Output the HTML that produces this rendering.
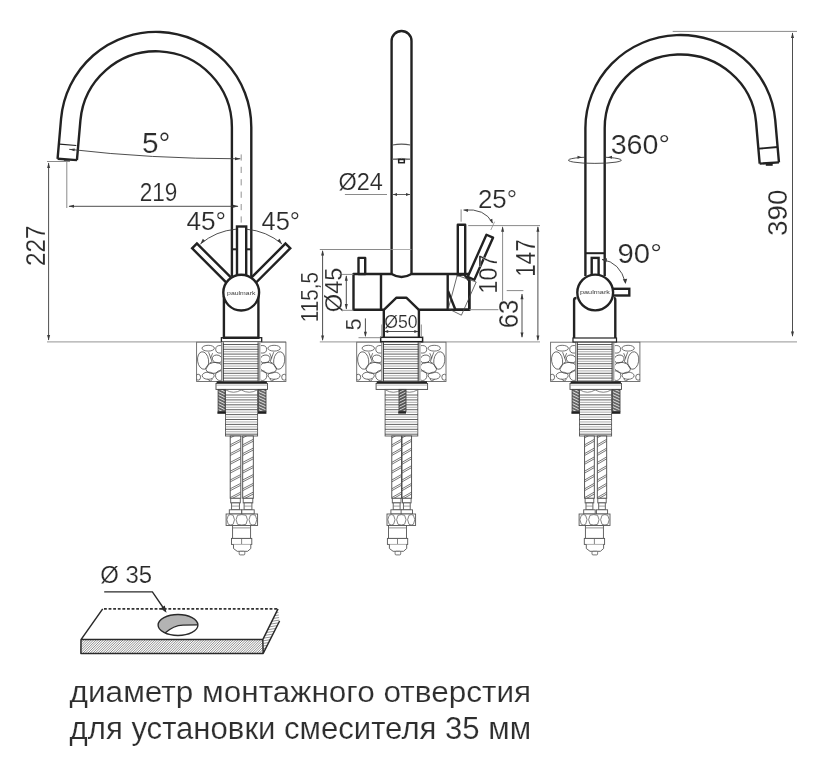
<!DOCTYPE html>
<html><head><meta charset="utf-8"><style>
html,body{margin:0;padding:0;background:#fff;}
body{width:822px;height:758px;overflow:hidden;font-family:"Liberation Sans",sans-serif;}
svg{display:block;will-change:transform;}
</style></head><body>
<svg width="822" height="758" viewBox="0 0 822 758" font-family="Liberation Sans, sans-serif">
<rect width="822" height="758" fill="#fff"/>
<line x1="47" y1="341.9" x2="286" y2="341.9" stroke="#aaa" stroke-width="1.3"/>
<line x1="319.8" y1="341.9" x2="540" y2="341.9" stroke="#aaa" stroke-width="1.3"/>
<line x1="617" y1="341.9" x2="797" y2="341.9" stroke="#aaa" stroke-width="1.3"/>
<rect x="221.39999999999998" y="337.7" width="40.3" height="4.3" fill="#fff" stroke="#222" stroke-width="1.3"/>
<rect x="196.6" y="342.2" width="89.3" height="39.3" fill="#fff" stroke="#666" stroke-width="0.9"/>
<clipPath id="pc1"><rect x="196.6" y="342.2" width="25" height="39.3"/></clipPath>
<g fill="none" stroke="#444" stroke-width="0.75" clip-path="url(#pc1)">
<ellipse cx="208.2" cy="348.2" rx="6.2" ry="2.9" transform="rotate(0 208.2 348.2)"/>
<ellipse cx="220.1" cy="349.3" rx="4.4" ry="3.8" transform="rotate(0 220.1 349.3)"/>
<ellipse cx="203.1" cy="360.5" rx="5.5" ry="8.8" transform="rotate(-8 203.1 360.5)"/>
<ellipse cx="217.2" cy="359.0" rx="5" ry="3.9" transform="rotate(15 217.2 359.0)"/>
<ellipse cx="214.0" cy="367.9" rx="8.2" ry="5.4" transform="rotate(-12 214.0 367.9)"/>
<ellipse cx="208.2" cy="375.7" rx="6" ry="3.6" transform="rotate(0 208.2 375.7)"/>
<ellipse cx="219.8" cy="375.6" rx="4.3" ry="4.9" transform="rotate(0 219.8 375.6)"/>
<ellipse cx="198.1" cy="377.2" rx="2.5" ry="3" transform="rotate(0 198.1 377.2)"/>
<line x1="208.6" y1="352.2" x2="212.1" y2="361.7"/>
<line x1="212.1" y1="361.7" x2="209.6" y2="363.2"/>
<line x1="212.6" y1="353.2" x2="210.6" y2="358.2"/>
<line x1="207.6" y1="379.2" x2="210.6" y2="381.2"/>
<line x1="212.6" y1="378.7" x2="210.6" y2="381.2"/>
</g>
<clipPath id="pc2"><rect x="260.7" y="342.2" width="25" height="39.3"/></clipPath>
<g fill="none" stroke="#444" stroke-width="0.75" clip-path="url(#pc2)">
<ellipse cx="274.1" cy="348.2" rx="6.2" ry="2.9" transform="rotate(0 274.1 348.2)"/>
<ellipse cx="262.2" cy="349.3" rx="4.4" ry="3.8" transform="rotate(0 262.2 349.3)"/>
<ellipse cx="279.2" cy="360.5" rx="5.5" ry="8.8" transform="rotate(8 279.2 360.5)"/>
<ellipse cx="265.1" cy="359.0" rx="5" ry="3.9" transform="rotate(-15 265.1 359.0)"/>
<ellipse cx="268.3" cy="367.9" rx="8.2" ry="5.4" transform="rotate(12 268.3 367.9)"/>
<ellipse cx="274.1" cy="375.7" rx="6" ry="3.6" transform="rotate(0 274.1 375.7)"/>
<ellipse cx="262.5" cy="375.6" rx="4.3" ry="4.9" transform="rotate(0 262.5 375.6)"/>
<ellipse cx="284.2" cy="377.2" rx="2.5" ry="3" transform="rotate(0 284.2 377.2)"/>
<line x1="273.7" y1="352.2" x2="270.2" y2="361.7"/>
<line x1="270.2" y1="361.7" x2="272.7" y2="363.2"/>
<line x1="269.7" y1="353.2" x2="271.7" y2="358.2"/>
<line x1="274.7" y1="379.2" x2="271.7" y2="381.2"/>
<line x1="269.7" y1="378.7" x2="271.7" y2="381.2"/>
</g>
<rect x="221.7" y="342.2" width="38.8" height="39.3" fill="#fff" stroke="none"/>
<line x1="223.1" y1="344.5" x2="258.3" y2="344.5" stroke="#3a3a3a" stroke-width="0.8"/>
<line x1="223.1" y1="346.9" x2="258.3" y2="346.9" stroke="#999" stroke-width="0.8"/>
<line x1="223.1" y1="349.3" x2="258.3" y2="349.3" stroke="#3a3a3a" stroke-width="0.8"/>
<line x1="223.1" y1="351.7" x2="258.3" y2="351.7" stroke="#999" stroke-width="0.8"/>
<line x1="223.1" y1="354.1" x2="258.3" y2="354.1" stroke="#3a3a3a" stroke-width="0.8"/>
<line x1="223.1" y1="356.5" x2="258.3" y2="356.5" stroke="#999" stroke-width="0.8"/>
<line x1="223.1" y1="358.9" x2="258.3" y2="358.9" stroke="#3a3a3a" stroke-width="0.8"/>
<line x1="223.1" y1="361.3" x2="258.3" y2="361.3" stroke="#999" stroke-width="0.8"/>
<line x1="223.1" y1="363.7" x2="258.3" y2="363.7" stroke="#3a3a3a" stroke-width="0.8"/>
<line x1="223.1" y1="366.1" x2="258.3" y2="366.1" stroke="#999" stroke-width="0.8"/>
<line x1="223.1" y1="368.5" x2="258.3" y2="368.5" stroke="#3a3a3a" stroke-width="0.8"/>
<line x1="223.1" y1="370.9" x2="258.3" y2="370.9" stroke="#999" stroke-width="0.8"/>
<line x1="223.1" y1="373.3" x2="258.3" y2="373.3" stroke="#3a3a3a" stroke-width="0.8"/>
<line x1="223.1" y1="375.7" x2="258.3" y2="375.7" stroke="#999" stroke-width="0.8"/>
<line x1="223.1" y1="378.1" x2="258.3" y2="378.1" stroke="#3a3a3a" stroke-width="0.8"/>
<line x1="223.1" y1="380.5" x2="258.3" y2="380.5" stroke="#999" stroke-width="0.8"/>
<line x1="221.7" y1="342.2" x2="221.7" y2="381.5" stroke="#777" stroke-width="1.0"/>
<line x1="223.29999999999998" y1="342.2" x2="223.29999999999998" y2="381.5" stroke="#333" stroke-width="1.0"/>
<line x1="258.09999999999997" y1="342.2" x2="258.09999999999997" y2="381.5" stroke="#333" stroke-width="1.0"/>
<line x1="259.8" y1="342.2" x2="259.8" y2="381.5" stroke="#777" stroke-width="1.0"/>
<rect x="216.6" y="381.3" width="50.3" height="2.4" fill="#222"/>
<rect x="216.0" y="383.5" width="51.5" height="5.9" fill="#fff" stroke="#444" stroke-width="0.9"/>
<line x1="216.0" y1="385.1" x2="267.5" y2="385.1" stroke="#999" stroke-width="0.7"/>
<rect x="225.5" y="389.4" width="32.099999999999966" height="46.6" fill="#fff" stroke="#555" stroke-width="0.9"/>
<path d="M226.0,390 Q233.35,394.5 241.2,390 Q249.39999999999998,394.5 257.09999999999997,390" fill="none" stroke="#666" stroke-width="0.8"/>
<line x1="225.5" y1="395" x2="257.59999999999997" y2="395" stroke="#3a3a3a" stroke-width="0.8"/>
<line x1="225.5" y1="397.45" x2="257.59999999999997" y2="397.45" stroke="#999" stroke-width="0.8"/>
<line x1="225.5" y1="399.9" x2="257.59999999999997" y2="399.9" stroke="#3a3a3a" stroke-width="0.8"/>
<line x1="225.5" y1="402.35" x2="257.59999999999997" y2="402.35" stroke="#999" stroke-width="0.8"/>
<line x1="225.5" y1="404.8" x2="257.59999999999997" y2="404.8" stroke="#3a3a3a" stroke-width="0.8"/>
<line x1="225.5" y1="407.25" x2="257.59999999999997" y2="407.25" stroke="#999" stroke-width="0.8"/>
<line x1="225.5" y1="409.7" x2="257.59999999999997" y2="409.7" stroke="#3a3a3a" stroke-width="0.8"/>
<line x1="225.5" y1="412.15" x2="257.59999999999997" y2="412.15" stroke="#999" stroke-width="0.8"/>
<line x1="225.5" y1="414.6" x2="257.59999999999997" y2="414.6" stroke="#3a3a3a" stroke-width="0.8"/>
<line x1="225.5" y1="417.05" x2="257.59999999999997" y2="417.05" stroke="#999" stroke-width="0.8"/>
<line x1="225.5" y1="419.5" x2="257.59999999999997" y2="419.5" stroke="#3a3a3a" stroke-width="0.8"/>
<line x1="225.5" y1="421.95" x2="257.59999999999997" y2="421.95" stroke="#999" stroke-width="0.8"/>
<line x1="225.5" y1="424.4" x2="257.59999999999997" y2="424.4" stroke="#3a3a3a" stroke-width="0.8"/>
<line x1="225.5" y1="426.85" x2="257.59999999999997" y2="426.85" stroke="#999" stroke-width="0.8"/>
<line x1="225.5" y1="429.3" x2="257.59999999999997" y2="429.3" stroke="#3a3a3a" stroke-width="0.8"/>
<line x1="225.5" y1="431.75" x2="257.59999999999997" y2="431.75" stroke="#999" stroke-width="0.8"/>
<line x1="225.5" y1="434.2" x2="257.59999999999997" y2="434.2" stroke="#3a3a3a" stroke-width="0.8"/>
<clipPath id="hc3"><rect x="218.1" y="389.4" width="7.0" height="22.2"/></clipPath>
<rect x="218.1" y="389.4" width="7.0" height="22.2" fill="#666"/>
<g clip-path="url(#hc3)" stroke="#fff" stroke-width="0.8">
<line x1="218.1" y1="379.40" x2="225.1" y2="382.90"/>
<line x1="218.1" y1="382.40" x2="225.1" y2="385.90"/>
<line x1="218.1" y1="385.40" x2="225.1" y2="388.90"/>
<line x1="218.1" y1="388.40" x2="225.1" y2="391.90"/>
<line x1="218.1" y1="391.40" x2="225.1" y2="394.90"/>
<line x1="218.1" y1="394.40" x2="225.1" y2="397.90"/>
<line x1="218.1" y1="397.40" x2="225.1" y2="400.90"/>
<line x1="218.1" y1="400.40" x2="225.1" y2="403.90"/>
<line x1="218.1" y1="403.40" x2="225.1" y2="406.90"/>
<line x1="218.1" y1="406.40" x2="225.1" y2="409.90"/>
<line x1="218.1" y1="409.40" x2="225.1" y2="412.90"/>
<line x1="218.1" y1="412.40" x2="225.1" y2="415.90"/>
</g>
<rect x="218.1" y="389.4" width="7.0" height="22.2" fill="none" stroke="#444" stroke-width="0.9"/>
<clipPath id="hc4"><rect x="258.4" y="389.4" width="7.6" height="22.2"/></clipPath>
<rect x="258.4" y="389.4" width="7.6" height="22.2" fill="#666"/>
<g clip-path="url(#hc4)" stroke="#fff" stroke-width="0.8">
<line x1="258.4" y1="379.40" x2="266.0" y2="382.90"/>
<line x1="258.4" y1="382.40" x2="266.0" y2="385.90"/>
<line x1="258.4" y1="385.40" x2="266.0" y2="388.90"/>
<line x1="258.4" y1="388.40" x2="266.0" y2="391.90"/>
<line x1="258.4" y1="391.40" x2="266.0" y2="394.90"/>
<line x1="258.4" y1="394.40" x2="266.0" y2="397.90"/>
<line x1="258.4" y1="397.40" x2="266.0" y2="400.90"/>
<line x1="258.4" y1="400.40" x2="266.0" y2="403.90"/>
<line x1="258.4" y1="403.40" x2="266.0" y2="406.90"/>
<line x1="258.4" y1="406.40" x2="266.0" y2="409.90"/>
<line x1="258.4" y1="409.40" x2="266.0" y2="412.90"/>
<line x1="258.4" y1="412.40" x2="266.0" y2="415.90"/>
</g>
<rect x="258.4" y="389.4" width="7.6" height="22.2" fill="none" stroke="#444" stroke-width="0.9"/>
<rect x="217.39999999999998" y="411.6" width="8.4" height="2.2" fill="#222"/>
<rect x="258.0" y="411.6" width="8.4" height="2.2" fill="#222"/>
<clipPath id="hc5"><rect x="230.2" y="436" width="10.599999999999994" height="62.3"/></clipPath>
<rect x="230.2" y="436" width="10.599999999999994" height="62.3" fill="#fff"/>
<g clip-path="url(#hc5)" stroke="#555" stroke-width="0.8">
<line x1="230.2" y1="427.20" x2="240.79999999999998" y2="421.70"/>
<line x1="230.2" y1="429.10" x2="240.79999999999998" y2="423.60"/>
<line x1="230.2" y1="436.00" x2="240.79999999999998" y2="430.50"/>
<line x1="230.2" y1="437.90" x2="240.79999999999998" y2="432.40"/>
<line x1="230.2" y1="444.80" x2="240.79999999999998" y2="439.30"/>
<line x1="230.2" y1="446.70" x2="240.79999999999998" y2="441.20"/>
<line x1="230.2" y1="453.60" x2="240.79999999999998" y2="448.10"/>
<line x1="230.2" y1="455.50" x2="240.79999999999998" y2="450.00"/>
<line x1="230.2" y1="462.40" x2="240.79999999999998" y2="456.90"/>
<line x1="230.2" y1="464.30" x2="240.79999999999998" y2="458.80"/>
<line x1="230.2" y1="471.20" x2="240.79999999999998" y2="465.70"/>
<line x1="230.2" y1="473.10" x2="240.79999999999998" y2="467.60"/>
<line x1="230.2" y1="480.00" x2="240.79999999999998" y2="474.50"/>
<line x1="230.2" y1="481.90" x2="240.79999999999998" y2="476.40"/>
<line x1="230.2" y1="488.80" x2="240.79999999999998" y2="483.30"/>
<line x1="230.2" y1="490.70" x2="240.79999999999998" y2="485.20"/>
<line x1="230.2" y1="497.60" x2="240.79999999999998" y2="492.10"/>
<line x1="230.2" y1="499.50" x2="240.79999999999998" y2="494.00"/>
<line x1="230.2" y1="506.40" x2="240.79999999999998" y2="500.90"/>
<line x1="230.2" y1="508.30" x2="240.79999999999998" y2="502.80"/>
<line x1="230.2" y1="515.20" x2="240.79999999999998" y2="509.70"/>
<line x1="230.2" y1="517.10" x2="240.79999999999998" y2="511.60"/>
</g>
<rect x="230.2" y="436" width="10.599999999999994" height="62.3" fill="none" stroke="#444" stroke-width="0.9"/>
<rect x="230.7" y="498.3" width="9.6" height="4.6" fill="#fff" stroke="#555" stroke-width="0.9"/>
<rect x="231.6" y="502.9" width="7.8" height="6.9" fill="#fff" stroke="#555" stroke-width="0.9"/>
<line x1="231.6" y1="506.1" x2="239.4" y2="506.1" stroke="#777" stroke-width="0.7"/>
<rect x="229.3" y="509.8" width="12.4" height="4.2" fill="#fff" stroke="#555" stroke-width="0.9"/>
<clipPath id="hc6"><rect x="242.7" y="436" width="10.599999999999994" height="62.3"/></clipPath>
<rect x="242.7" y="436" width="10.599999999999994" height="62.3" fill="#fff"/>
<g clip-path="url(#hc6)" stroke="#555" stroke-width="0.8">
<line x1="242.7" y1="427.20" x2="253.29999999999998" y2="421.70"/>
<line x1="242.7" y1="429.10" x2="253.29999999999998" y2="423.60"/>
<line x1="242.7" y1="436.00" x2="253.29999999999998" y2="430.50"/>
<line x1="242.7" y1="437.90" x2="253.29999999999998" y2="432.40"/>
<line x1="242.7" y1="444.80" x2="253.29999999999998" y2="439.30"/>
<line x1="242.7" y1="446.70" x2="253.29999999999998" y2="441.20"/>
<line x1="242.7" y1="453.60" x2="253.29999999999998" y2="448.10"/>
<line x1="242.7" y1="455.50" x2="253.29999999999998" y2="450.00"/>
<line x1="242.7" y1="462.40" x2="253.29999999999998" y2="456.90"/>
<line x1="242.7" y1="464.30" x2="253.29999999999998" y2="458.80"/>
<line x1="242.7" y1="471.20" x2="253.29999999999998" y2="465.70"/>
<line x1="242.7" y1="473.10" x2="253.29999999999998" y2="467.60"/>
<line x1="242.7" y1="480.00" x2="253.29999999999998" y2="474.50"/>
<line x1="242.7" y1="481.90" x2="253.29999999999998" y2="476.40"/>
<line x1="242.7" y1="488.80" x2="253.29999999999998" y2="483.30"/>
<line x1="242.7" y1="490.70" x2="253.29999999999998" y2="485.20"/>
<line x1="242.7" y1="497.60" x2="253.29999999999998" y2="492.10"/>
<line x1="242.7" y1="499.50" x2="253.29999999999998" y2="494.00"/>
<line x1="242.7" y1="506.40" x2="253.29999999999998" y2="500.90"/>
<line x1="242.7" y1="508.30" x2="253.29999999999998" y2="502.80"/>
<line x1="242.7" y1="515.20" x2="253.29999999999998" y2="509.70"/>
<line x1="242.7" y1="517.10" x2="253.29999999999998" y2="511.60"/>
</g>
<rect x="242.7" y="436" width="10.599999999999994" height="62.3" fill="none" stroke="#444" stroke-width="0.9"/>
<rect x="243.2" y="498.3" width="9.6" height="4.6" fill="#fff" stroke="#555" stroke-width="0.9"/>
<rect x="244.1" y="502.9" width="7.8" height="6.9" fill="#fff" stroke="#555" stroke-width="0.9"/>
<line x1="244.1" y1="506.1" x2="251.9" y2="506.1" stroke="#777" stroke-width="0.7"/>
<rect x="241.8" y="509.8" width="12.4" height="4.2" fill="#fff" stroke="#555" stroke-width="0.9"/>
<rect x="226.1" y="514" width="31.5" height="11.5" fill="#fff" stroke="#555" stroke-width="0.9"/>
<path d="M226.9,519.7 L228.3,515.3 L230.7,514.6 L233.1,515.3 L234.5,519.7 L233.1,524.3 L230.7,525 L228.3,524.3 Z" fill="none" stroke="#666" stroke-width="0.8" stroke-linejoin="round"/>
<path d="M236.1,519.7 L237.5,515.3 L241.8,514.6 L246.0,515.3 L247.4,519.7 L246.0,524.3 L241.8,525 L237.5,524.3 Z" fill="none" stroke="#666" stroke-width="0.8" stroke-linejoin="round"/>
<path d="M249.0,519.7 L250.4,515.3 L252.9,514.6 L255.4,515.3 L256.8,519.7 L255.4,524.3 L252.9,525 L250.4,524.3 Z" fill="none" stroke="#666" stroke-width="0.8" stroke-linejoin="round"/>
<rect x="232.6" y="525.5" width="18" height="12.9" fill="#fff" stroke="#555" stroke-width="0.9"/>
<line x1="232.6" y1="527.9" x2="250.6" y2="527.9" stroke="#777" stroke-width="0.8"/>
<rect x="231.5" y="538.4" width="20.3" height="6" fill="#fff" stroke="#555" stroke-width="0.9"/>
<line x1="241.6" y1="538.4" x2="241.6" y2="544.4" stroke="#666" stroke-width="0.8"/>
<path d="M233.5,544.4 L233.5,548.5 L237.2,551.3 L247.6,551.3 L250.8,548.5 L250.8,544.4" fill="#fff" stroke="#555" stroke-width="0.9"/>
<rect x="239.2" y="551.3" width="5.6" height="3.6" rx="1" fill="#fff" stroke="#555" stroke-width="0.8"/>
<rect x="381.5" y="337.7" width="40.3" height="4.3" fill="#fff" stroke="#222" stroke-width="1.3"/>
<rect x="356.7" y="342.2" width="89.3" height="39.3" fill="#fff" stroke="#666" stroke-width="0.9"/>
<clipPath id="pc7"><rect x="356.7" y="342.2" width="25" height="39.3"/></clipPath>
<g fill="none" stroke="#444" stroke-width="0.75" clip-path="url(#pc7)">
<ellipse cx="368.3" cy="348.2" rx="6.2" ry="2.9" transform="rotate(0 368.3 348.2)"/>
<ellipse cx="380.2" cy="349.3" rx="4.4" ry="3.8" transform="rotate(0 380.2 349.3)"/>
<ellipse cx="363.2" cy="360.5" rx="5.5" ry="8.8" transform="rotate(-8 363.2 360.5)"/>
<ellipse cx="377.3" cy="359.0" rx="5" ry="3.9" transform="rotate(15 377.3 359.0)"/>
<ellipse cx="374.1" cy="367.9" rx="8.2" ry="5.4" transform="rotate(-12 374.1 367.9)"/>
<ellipse cx="368.3" cy="375.7" rx="6" ry="3.6" transform="rotate(0 368.3 375.7)"/>
<ellipse cx="379.9" cy="375.6" rx="4.3" ry="4.9" transform="rotate(0 379.9 375.6)"/>
<ellipse cx="358.2" cy="377.2" rx="2.5" ry="3" transform="rotate(0 358.2 377.2)"/>
<line x1="368.7" y1="352.2" x2="372.2" y2="361.7"/>
<line x1="372.2" y1="361.7" x2="369.7" y2="363.2"/>
<line x1="372.7" y1="353.2" x2="370.7" y2="358.2"/>
<line x1="367.7" y1="379.2" x2="370.7" y2="381.2"/>
<line x1="372.7" y1="378.7" x2="370.7" y2="381.2"/>
</g>
<clipPath id="pc8"><rect x="420.8" y="342.2" width="25" height="39.3"/></clipPath>
<g fill="none" stroke="#444" stroke-width="0.75" clip-path="url(#pc8)">
<ellipse cx="434.2" cy="348.2" rx="6.2" ry="2.9" transform="rotate(0 434.2 348.2)"/>
<ellipse cx="422.3" cy="349.3" rx="4.4" ry="3.8" transform="rotate(0 422.3 349.3)"/>
<ellipse cx="439.3" cy="360.5" rx="5.5" ry="8.8" transform="rotate(8 439.3 360.5)"/>
<ellipse cx="425.2" cy="359.0" rx="5" ry="3.9" transform="rotate(-15 425.2 359.0)"/>
<ellipse cx="428.4" cy="367.9" rx="8.2" ry="5.4" transform="rotate(12 428.4 367.9)"/>
<ellipse cx="434.2" cy="375.7" rx="6" ry="3.6" transform="rotate(0 434.2 375.7)"/>
<ellipse cx="422.6" cy="375.6" rx="4.3" ry="4.9" transform="rotate(0 422.6 375.6)"/>
<ellipse cx="444.3" cy="377.2" rx="2.5" ry="3" transform="rotate(0 444.3 377.2)"/>
<line x1="433.8" y1="352.2" x2="430.3" y2="361.7"/>
<line x1="430.3" y1="361.7" x2="432.8" y2="363.2"/>
<line x1="429.8" y1="353.2" x2="431.8" y2="358.2"/>
<line x1="434.8" y1="379.2" x2="431.8" y2="381.2"/>
<line x1="429.8" y1="378.7" x2="431.8" y2="381.2"/>
</g>
<rect x="381.8" y="342.2" width="38.8" height="39.3" fill="#fff" stroke="none"/>
<line x1="383.2" y1="344.5" x2="418.40000000000003" y2="344.5" stroke="#3a3a3a" stroke-width="0.8"/>
<line x1="383.2" y1="346.9" x2="418.40000000000003" y2="346.9" stroke="#999" stroke-width="0.8"/>
<line x1="383.2" y1="349.3" x2="418.40000000000003" y2="349.3" stroke="#3a3a3a" stroke-width="0.8"/>
<line x1="383.2" y1="351.7" x2="418.40000000000003" y2="351.7" stroke="#999" stroke-width="0.8"/>
<line x1="383.2" y1="354.1" x2="418.40000000000003" y2="354.1" stroke="#3a3a3a" stroke-width="0.8"/>
<line x1="383.2" y1="356.5" x2="418.40000000000003" y2="356.5" stroke="#999" stroke-width="0.8"/>
<line x1="383.2" y1="358.9" x2="418.40000000000003" y2="358.9" stroke="#3a3a3a" stroke-width="0.8"/>
<line x1="383.2" y1="361.3" x2="418.40000000000003" y2="361.3" stroke="#999" stroke-width="0.8"/>
<line x1="383.2" y1="363.7" x2="418.40000000000003" y2="363.7" stroke="#3a3a3a" stroke-width="0.8"/>
<line x1="383.2" y1="366.1" x2="418.40000000000003" y2="366.1" stroke="#999" stroke-width="0.8"/>
<line x1="383.2" y1="368.5" x2="418.40000000000003" y2="368.5" stroke="#3a3a3a" stroke-width="0.8"/>
<line x1="383.2" y1="370.9" x2="418.40000000000003" y2="370.9" stroke="#999" stroke-width="0.8"/>
<line x1="383.2" y1="373.3" x2="418.40000000000003" y2="373.3" stroke="#3a3a3a" stroke-width="0.8"/>
<line x1="383.2" y1="375.7" x2="418.40000000000003" y2="375.7" stroke="#999" stroke-width="0.8"/>
<line x1="383.2" y1="378.1" x2="418.40000000000003" y2="378.1" stroke="#3a3a3a" stroke-width="0.8"/>
<line x1="383.2" y1="380.5" x2="418.40000000000003" y2="380.5" stroke="#999" stroke-width="0.8"/>
<line x1="381.8" y1="342.2" x2="381.8" y2="381.5" stroke="#777" stroke-width="1.0"/>
<line x1="383.40000000000003" y1="342.2" x2="383.40000000000003" y2="381.5" stroke="#333" stroke-width="1.0"/>
<line x1="418.2" y1="342.2" x2="418.2" y2="381.5" stroke="#333" stroke-width="1.0"/>
<line x1="419.90000000000003" y1="342.2" x2="419.90000000000003" y2="381.5" stroke="#777" stroke-width="1.0"/>
<rect x="376.7" y="381.3" width="50.3" height="2.4" fill="#222"/>
<rect x="376.1" y="383.5" width="51.5" height="5.9" fill="#fff" stroke="#444" stroke-width="0.9"/>
<line x1="376.1" y1="385.1" x2="427.6" y2="385.1" stroke="#999" stroke-width="0.7"/>
<rect x="385.1" y="389.4" width="32.69999999999999" height="46.6" fill="#fff" stroke="#555" stroke-width="0.9"/>
<path d="M385.6,390 Q393.20000000000005,394.5 401.3,390 Q409.55,394.5 417.3,390" fill="none" stroke="#666" stroke-width="0.8"/>
<line x1="385.1" y1="395" x2="417.8" y2="395" stroke="#3a3a3a" stroke-width="0.8"/>
<line x1="385.1" y1="397.45" x2="417.8" y2="397.45" stroke="#999" stroke-width="0.8"/>
<line x1="385.1" y1="399.9" x2="417.8" y2="399.9" stroke="#3a3a3a" stroke-width="0.8"/>
<line x1="385.1" y1="402.35" x2="417.8" y2="402.35" stroke="#999" stroke-width="0.8"/>
<line x1="385.1" y1="404.8" x2="417.8" y2="404.8" stroke="#3a3a3a" stroke-width="0.8"/>
<line x1="385.1" y1="407.25" x2="417.8" y2="407.25" stroke="#999" stroke-width="0.8"/>
<line x1="385.1" y1="409.7" x2="417.8" y2="409.7" stroke="#3a3a3a" stroke-width="0.8"/>
<line x1="385.1" y1="412.15" x2="417.8" y2="412.15" stroke="#999" stroke-width="0.8"/>
<line x1="385.1" y1="414.6" x2="417.8" y2="414.6" stroke="#3a3a3a" stroke-width="0.8"/>
<line x1="385.1" y1="417.05" x2="417.8" y2="417.05" stroke="#999" stroke-width="0.8"/>
<line x1="385.1" y1="419.5" x2="417.8" y2="419.5" stroke="#3a3a3a" stroke-width="0.8"/>
<line x1="385.1" y1="421.95" x2="417.8" y2="421.95" stroke="#999" stroke-width="0.8"/>
<line x1="385.1" y1="424.4" x2="417.8" y2="424.4" stroke="#3a3a3a" stroke-width="0.8"/>
<line x1="385.1" y1="426.85" x2="417.8" y2="426.85" stroke="#999" stroke-width="0.8"/>
<line x1="385.1" y1="429.3" x2="417.8" y2="429.3" stroke="#3a3a3a" stroke-width="0.8"/>
<line x1="385.1" y1="431.75" x2="417.8" y2="431.75" stroke="#999" stroke-width="0.8"/>
<line x1="385.1" y1="434.2" x2="417.8" y2="434.2" stroke="#3a3a3a" stroke-width="0.8"/>
<clipPath id="hc9"><rect x="399.0" y="389.4" width="7" height="22.1"/></clipPath>
<rect x="399.0" y="389.4" width="7" height="22.1" fill="#555"/>
<g clip-path="url(#hc9)" stroke="#eee" stroke-width="0.8">
<line x1="399.0" y1="386.40" x2="406.0" y2="382.90"/>
<line x1="399.0" y1="389.40" x2="406.0" y2="385.90"/>
<line x1="399.0" y1="392.40" x2="406.0" y2="388.90"/>
<line x1="399.0" y1="395.40" x2="406.0" y2="391.90"/>
<line x1="399.0" y1="398.40" x2="406.0" y2="394.90"/>
<line x1="399.0" y1="401.40" x2="406.0" y2="397.90"/>
<line x1="399.0" y1="404.40" x2="406.0" y2="400.90"/>
<line x1="399.0" y1="407.40" x2="406.0" y2="403.90"/>
<line x1="399.0" y1="410.40" x2="406.0" y2="406.90"/>
<line x1="399.0" y1="413.40" x2="406.0" y2="409.90"/>
<line x1="399.0" y1="416.40" x2="406.0" y2="412.90"/>
<line x1="399.0" y1="419.40" x2="406.0" y2="415.90"/>
</g>
<rect x="399.0" y="389.4" width="7" height="22.1" fill="none" stroke="#444" stroke-width="0.9"/>
<rect x="398.2" y="411.5" width="7.8" height="2.1" fill="#222"/>
<clipPath id="hc10"><rect x="391.8" y="436" width="9.699999999999989" height="62.3"/></clipPath>
<rect x="391.8" y="436" width="9.699999999999989" height="62.3" fill="#fff"/>
<g clip-path="url(#hc10)" stroke="#555" stroke-width="0.8">
<line x1="391.8" y1="427.20" x2="401.5" y2="421.70"/>
<line x1="391.8" y1="429.10" x2="401.5" y2="423.60"/>
<line x1="391.8" y1="436.00" x2="401.5" y2="430.50"/>
<line x1="391.8" y1="437.90" x2="401.5" y2="432.40"/>
<line x1="391.8" y1="444.80" x2="401.5" y2="439.30"/>
<line x1="391.8" y1="446.70" x2="401.5" y2="441.20"/>
<line x1="391.8" y1="453.60" x2="401.5" y2="448.10"/>
<line x1="391.8" y1="455.50" x2="401.5" y2="450.00"/>
<line x1="391.8" y1="462.40" x2="401.5" y2="456.90"/>
<line x1="391.8" y1="464.30" x2="401.5" y2="458.80"/>
<line x1="391.8" y1="471.20" x2="401.5" y2="465.70"/>
<line x1="391.8" y1="473.10" x2="401.5" y2="467.60"/>
<line x1="391.8" y1="480.00" x2="401.5" y2="474.50"/>
<line x1="391.8" y1="481.90" x2="401.5" y2="476.40"/>
<line x1="391.8" y1="488.80" x2="401.5" y2="483.30"/>
<line x1="391.8" y1="490.70" x2="401.5" y2="485.20"/>
<line x1="391.8" y1="497.60" x2="401.5" y2="492.10"/>
<line x1="391.8" y1="499.50" x2="401.5" y2="494.00"/>
<line x1="391.8" y1="506.40" x2="401.5" y2="500.90"/>
<line x1="391.8" y1="508.30" x2="401.5" y2="502.80"/>
<line x1="391.8" y1="515.20" x2="401.5" y2="509.70"/>
<line x1="391.8" y1="517.10" x2="401.5" y2="511.60"/>
</g>
<rect x="391.8" y="436" width="9.699999999999989" height="62.3" fill="none" stroke="#444" stroke-width="0.9"/>
<rect x="392.3" y="498.3" width="8.7" height="4.6" fill="#fff" stroke="#555" stroke-width="0.9"/>
<rect x="393.2" y="502.9" width="6.9" height="6.9" fill="#fff" stroke="#555" stroke-width="0.9"/>
<line x1="393.2" y1="506.1" x2="400.1" y2="506.1" stroke="#777" stroke-width="0.7"/>
<rect x="390.9" y="509.8" width="11.5" height="4.2" fill="#fff" stroke="#555" stroke-width="0.9"/>
<clipPath id="hc11"><rect x="402.0" y="436" width="9.600000000000023" height="62.3"/></clipPath>
<rect x="402.0" y="436" width="9.600000000000023" height="62.3" fill="#fff"/>
<g clip-path="url(#hc11)" stroke="#555" stroke-width="0.8">
<line x1="402.0" y1="427.20" x2="411.6" y2="421.70"/>
<line x1="402.0" y1="429.10" x2="411.6" y2="423.60"/>
<line x1="402.0" y1="436.00" x2="411.6" y2="430.50"/>
<line x1="402.0" y1="437.90" x2="411.6" y2="432.40"/>
<line x1="402.0" y1="444.80" x2="411.6" y2="439.30"/>
<line x1="402.0" y1="446.70" x2="411.6" y2="441.20"/>
<line x1="402.0" y1="453.60" x2="411.6" y2="448.10"/>
<line x1="402.0" y1="455.50" x2="411.6" y2="450.00"/>
<line x1="402.0" y1="462.40" x2="411.6" y2="456.90"/>
<line x1="402.0" y1="464.30" x2="411.6" y2="458.80"/>
<line x1="402.0" y1="471.20" x2="411.6" y2="465.70"/>
<line x1="402.0" y1="473.10" x2="411.6" y2="467.60"/>
<line x1="402.0" y1="480.00" x2="411.6" y2="474.50"/>
<line x1="402.0" y1="481.90" x2="411.6" y2="476.40"/>
<line x1="402.0" y1="488.80" x2="411.6" y2="483.30"/>
<line x1="402.0" y1="490.70" x2="411.6" y2="485.20"/>
<line x1="402.0" y1="497.60" x2="411.6" y2="492.10"/>
<line x1="402.0" y1="499.50" x2="411.6" y2="494.00"/>
<line x1="402.0" y1="506.40" x2="411.6" y2="500.90"/>
<line x1="402.0" y1="508.30" x2="411.6" y2="502.80"/>
<line x1="402.0" y1="515.20" x2="411.6" y2="509.70"/>
<line x1="402.0" y1="517.10" x2="411.6" y2="511.60"/>
</g>
<rect x="402.0" y="436" width="9.600000000000023" height="62.3" fill="none" stroke="#444" stroke-width="0.9"/>
<rect x="402.5" y="498.3" width="8.6" height="4.6" fill="#fff" stroke="#555" stroke-width="0.9"/>
<rect x="403.4" y="502.9" width="6.8" height="6.9" fill="#fff" stroke="#555" stroke-width="0.9"/>
<line x1="403.4" y1="506.1" x2="410.2" y2="506.1" stroke="#777" stroke-width="0.7"/>
<rect x="401.1" y="509.8" width="11.4" height="4.2" fill="#fff" stroke="#555" stroke-width="0.9"/>
<rect x="387.0" y="514" width="28.6" height="11.5" fill="#fff" stroke="#555" stroke-width="0.9"/>
<path d="M387.8,519.7 L389.2,515.3 L391.4,514.6 L393.6,515.3 L395.0,519.7 L393.6,524.3 L391.4,525 L389.2,524.3 Z" fill="none" stroke="#666" stroke-width="0.8" stroke-linejoin="round"/>
<path d="M396.6,519.7 L398.0,515.3 L401.3,514.6 L404.6,515.3 L406.0,519.7 L404.6,524.3 L401.3,525 L398.0,524.3 Z" fill="none" stroke="#666" stroke-width="0.8" stroke-linejoin="round"/>
<path d="M407.6,519.7 L409.0,515.3 L411.2,514.6 L413.4,515.3 L414.8,519.7 L413.4,524.3 L411.2,525 L409.0,524.3 Z" fill="none" stroke="#666" stroke-width="0.8" stroke-linejoin="round"/>
<rect x="388.5" y="525.5" width="18" height="12.9" fill="#fff" stroke="#555" stroke-width="0.9"/>
<line x1="388.5" y1="527.9" x2="406.5" y2="527.9" stroke="#777" stroke-width="0.8"/>
<rect x="387.4" y="538.4" width="20.3" height="6" fill="#fff" stroke="#555" stroke-width="0.9"/>
<line x1="397.5" y1="538.4" x2="397.5" y2="544.4" stroke="#666" stroke-width="0.8"/>
<path d="M389.4,544.4 L389.4,548.5 L393.1,551.3 L403.5,551.3 L406.7,548.5 L406.7,544.4" fill="#fff" stroke="#555" stroke-width="0.9"/>
<rect x="395.1" y="551.3" width="5.6" height="3.6" rx="1" fill="#fff" stroke="#555" stroke-width="0.8"/>
<rect x="550.6" y="342.2" width="89.3" height="39.3" fill="#fff" stroke="#666" stroke-width="0.9"/>
<clipPath id="pc12"><rect x="550.6" y="342.2" width="25" height="39.3"/></clipPath>
<g fill="none" stroke="#444" stroke-width="0.75" clip-path="url(#pc12)">
<ellipse cx="562.2" cy="348.2" rx="6.2" ry="2.9" transform="rotate(0 562.2 348.2)"/>
<ellipse cx="574.1" cy="349.3" rx="4.4" ry="3.8" transform="rotate(0 574.1 349.3)"/>
<ellipse cx="557.1" cy="360.5" rx="5.5" ry="8.8" transform="rotate(-8 557.1 360.5)"/>
<ellipse cx="571.2" cy="359.0" rx="5" ry="3.9" transform="rotate(15 571.2 359.0)"/>
<ellipse cx="568.0" cy="367.9" rx="8.2" ry="5.4" transform="rotate(-12 568.0 367.9)"/>
<ellipse cx="562.2" cy="375.7" rx="6" ry="3.6" transform="rotate(0 562.2 375.7)"/>
<ellipse cx="573.8" cy="375.6" rx="4.3" ry="4.9" transform="rotate(0 573.8 375.6)"/>
<ellipse cx="552.1" cy="377.2" rx="2.5" ry="3" transform="rotate(0 552.1 377.2)"/>
<line x1="562.6" y1="352.2" x2="566.1" y2="361.7"/>
<line x1="566.1" y1="361.7" x2="563.6" y2="363.2"/>
<line x1="566.6" y1="353.2" x2="564.6" y2="358.2"/>
<line x1="561.6" y1="379.2" x2="564.6" y2="381.2"/>
<line x1="566.6" y1="378.7" x2="564.6" y2="381.2"/>
</g>
<clipPath id="pc13"><rect x="614.7" y="342.2" width="25" height="39.3"/></clipPath>
<g fill="none" stroke="#444" stroke-width="0.75" clip-path="url(#pc13)">
<ellipse cx="628.1" cy="348.2" rx="6.2" ry="2.9" transform="rotate(0 628.1 348.2)"/>
<ellipse cx="616.2" cy="349.3" rx="4.4" ry="3.8" transform="rotate(0 616.2 349.3)"/>
<ellipse cx="633.2" cy="360.5" rx="5.5" ry="8.8" transform="rotate(8 633.2 360.5)"/>
<ellipse cx="619.1" cy="359.0" rx="5" ry="3.9" transform="rotate(-15 619.1 359.0)"/>
<ellipse cx="622.3" cy="367.9" rx="8.2" ry="5.4" transform="rotate(12 622.3 367.9)"/>
<ellipse cx="628.1" cy="375.7" rx="6" ry="3.6" transform="rotate(0 628.1 375.7)"/>
<ellipse cx="616.5" cy="375.6" rx="4.3" ry="4.9" transform="rotate(0 616.5 375.6)"/>
<ellipse cx="638.2" cy="377.2" rx="2.5" ry="3" transform="rotate(0 638.2 377.2)"/>
<line x1="627.7" y1="352.2" x2="624.2" y2="361.7"/>
<line x1="624.2" y1="361.7" x2="626.7" y2="363.2"/>
<line x1="623.7" y1="353.2" x2="625.7" y2="358.2"/>
<line x1="628.7" y1="379.2" x2="625.7" y2="381.2"/>
<line x1="623.7" y1="378.7" x2="625.7" y2="381.2"/>
</g>
<rect x="575.7" y="342.2" width="38.8" height="39.3" fill="#fff" stroke="none"/>
<line x1="577.1" y1="344.5" x2="612.3000000000001" y2="344.5" stroke="#3a3a3a" stroke-width="0.8"/>
<line x1="577.1" y1="346.9" x2="612.3000000000001" y2="346.9" stroke="#999" stroke-width="0.8"/>
<line x1="577.1" y1="349.3" x2="612.3000000000001" y2="349.3" stroke="#3a3a3a" stroke-width="0.8"/>
<line x1="577.1" y1="351.7" x2="612.3000000000001" y2="351.7" stroke="#999" stroke-width="0.8"/>
<line x1="577.1" y1="354.1" x2="612.3000000000001" y2="354.1" stroke="#3a3a3a" stroke-width="0.8"/>
<line x1="577.1" y1="356.5" x2="612.3000000000001" y2="356.5" stroke="#999" stroke-width="0.8"/>
<line x1="577.1" y1="358.9" x2="612.3000000000001" y2="358.9" stroke="#3a3a3a" stroke-width="0.8"/>
<line x1="577.1" y1="361.3" x2="612.3000000000001" y2="361.3" stroke="#999" stroke-width="0.8"/>
<line x1="577.1" y1="363.7" x2="612.3000000000001" y2="363.7" stroke="#3a3a3a" stroke-width="0.8"/>
<line x1="577.1" y1="366.1" x2="612.3000000000001" y2="366.1" stroke="#999" stroke-width="0.8"/>
<line x1="577.1" y1="368.5" x2="612.3000000000001" y2="368.5" stroke="#3a3a3a" stroke-width="0.8"/>
<line x1="577.1" y1="370.9" x2="612.3000000000001" y2="370.9" stroke="#999" stroke-width="0.8"/>
<line x1="577.1" y1="373.3" x2="612.3000000000001" y2="373.3" stroke="#3a3a3a" stroke-width="0.8"/>
<line x1="577.1" y1="375.7" x2="612.3000000000001" y2="375.7" stroke="#999" stroke-width="0.8"/>
<line x1="577.1" y1="378.1" x2="612.3000000000001" y2="378.1" stroke="#3a3a3a" stroke-width="0.8"/>
<line x1="577.1" y1="380.5" x2="612.3000000000001" y2="380.5" stroke="#999" stroke-width="0.8"/>
<line x1="575.7" y1="342.2" x2="575.7" y2="381.5" stroke="#777" stroke-width="1.0"/>
<line x1="577.3000000000001" y1="342.2" x2="577.3000000000001" y2="381.5" stroke="#333" stroke-width="1.0"/>
<line x1="612.1" y1="342.2" x2="612.1" y2="381.5" stroke="#333" stroke-width="1.0"/>
<line x1="613.8000000000001" y1="342.2" x2="613.8000000000001" y2="381.5" stroke="#777" stroke-width="1.0"/>
<rect x="570.6" y="381.3" width="50.3" height="2.4" fill="#222"/>
<rect x="570.0" y="383.5" width="51.5" height="5.9" fill="#fff" stroke="#444" stroke-width="0.9"/>
<line x1="570.0" y1="385.1" x2="621.5" y2="385.1" stroke="#999" stroke-width="0.7"/>
<rect x="579.5" y="389.4" width="32.10000000000002" height="46.6" fill="#fff" stroke="#555" stroke-width="0.9"/>
<path d="M580.0,390 Q587.35,394.5 595.2,390 Q603.4000000000001,394.5 611.1,390" fill="none" stroke="#666" stroke-width="0.8"/>
<line x1="579.5" y1="395" x2="611.6" y2="395" stroke="#3a3a3a" stroke-width="0.8"/>
<line x1="579.5" y1="397.45" x2="611.6" y2="397.45" stroke="#999" stroke-width="0.8"/>
<line x1="579.5" y1="399.9" x2="611.6" y2="399.9" stroke="#3a3a3a" stroke-width="0.8"/>
<line x1="579.5" y1="402.35" x2="611.6" y2="402.35" stroke="#999" stroke-width="0.8"/>
<line x1="579.5" y1="404.8" x2="611.6" y2="404.8" stroke="#3a3a3a" stroke-width="0.8"/>
<line x1="579.5" y1="407.25" x2="611.6" y2="407.25" stroke="#999" stroke-width="0.8"/>
<line x1="579.5" y1="409.7" x2="611.6" y2="409.7" stroke="#3a3a3a" stroke-width="0.8"/>
<line x1="579.5" y1="412.15" x2="611.6" y2="412.15" stroke="#999" stroke-width="0.8"/>
<line x1="579.5" y1="414.6" x2="611.6" y2="414.6" stroke="#3a3a3a" stroke-width="0.8"/>
<line x1="579.5" y1="417.05" x2="611.6" y2="417.05" stroke="#999" stroke-width="0.8"/>
<line x1="579.5" y1="419.5" x2="611.6" y2="419.5" stroke="#3a3a3a" stroke-width="0.8"/>
<line x1="579.5" y1="421.95" x2="611.6" y2="421.95" stroke="#999" stroke-width="0.8"/>
<line x1="579.5" y1="424.4" x2="611.6" y2="424.4" stroke="#3a3a3a" stroke-width="0.8"/>
<line x1="579.5" y1="426.85" x2="611.6" y2="426.85" stroke="#999" stroke-width="0.8"/>
<line x1="579.5" y1="429.3" x2="611.6" y2="429.3" stroke="#3a3a3a" stroke-width="0.8"/>
<line x1="579.5" y1="431.75" x2="611.6" y2="431.75" stroke="#999" stroke-width="0.8"/>
<line x1="579.5" y1="434.2" x2="611.6" y2="434.2" stroke="#3a3a3a" stroke-width="0.8"/>
<clipPath id="hc14"><rect x="572.1" y="389.4" width="7.0" height="22.2"/></clipPath>
<rect x="572.1" y="389.4" width="7.0" height="22.2" fill="#666"/>
<g clip-path="url(#hc14)" stroke="#fff" stroke-width="0.8">
<line x1="572.1" y1="379.40" x2="579.1" y2="382.90"/>
<line x1="572.1" y1="382.40" x2="579.1" y2="385.90"/>
<line x1="572.1" y1="385.40" x2="579.1" y2="388.90"/>
<line x1="572.1" y1="388.40" x2="579.1" y2="391.90"/>
<line x1="572.1" y1="391.40" x2="579.1" y2="394.90"/>
<line x1="572.1" y1="394.40" x2="579.1" y2="397.90"/>
<line x1="572.1" y1="397.40" x2="579.1" y2="400.90"/>
<line x1="572.1" y1="400.40" x2="579.1" y2="403.90"/>
<line x1="572.1" y1="403.40" x2="579.1" y2="406.90"/>
<line x1="572.1" y1="406.40" x2="579.1" y2="409.90"/>
<line x1="572.1" y1="409.40" x2="579.1" y2="412.90"/>
<line x1="572.1" y1="412.40" x2="579.1" y2="415.90"/>
</g>
<rect x="572.1" y="389.4" width="7.0" height="22.2" fill="none" stroke="#444" stroke-width="0.9"/>
<clipPath id="hc15"><rect x="612.4000000000001" y="389.4" width="7.6" height="22.2"/></clipPath>
<rect x="612.4000000000001" y="389.4" width="7.6" height="22.2" fill="#666"/>
<g clip-path="url(#hc15)" stroke="#fff" stroke-width="0.8">
<line x1="612.4000000000001" y1="379.40" x2="620.0000000000001" y2="382.90"/>
<line x1="612.4000000000001" y1="382.40" x2="620.0000000000001" y2="385.90"/>
<line x1="612.4000000000001" y1="385.40" x2="620.0000000000001" y2="388.90"/>
<line x1="612.4000000000001" y1="388.40" x2="620.0000000000001" y2="391.90"/>
<line x1="612.4000000000001" y1="391.40" x2="620.0000000000001" y2="394.90"/>
<line x1="612.4000000000001" y1="394.40" x2="620.0000000000001" y2="397.90"/>
<line x1="612.4000000000001" y1="397.40" x2="620.0000000000001" y2="400.90"/>
<line x1="612.4000000000001" y1="400.40" x2="620.0000000000001" y2="403.90"/>
<line x1="612.4000000000001" y1="403.40" x2="620.0000000000001" y2="406.90"/>
<line x1="612.4000000000001" y1="406.40" x2="620.0000000000001" y2="409.90"/>
<line x1="612.4000000000001" y1="409.40" x2="620.0000000000001" y2="412.90"/>
<line x1="612.4000000000001" y1="412.40" x2="620.0000000000001" y2="415.90"/>
</g>
<rect x="612.4000000000001" y="389.4" width="7.6" height="22.2" fill="none" stroke="#444" stroke-width="0.9"/>
<rect x="571.4000000000001" y="411.6" width="8.4" height="2.2" fill="#222"/>
<rect x="612.0" y="411.6" width="8.4" height="2.2" fill="#222"/>
<clipPath id="hc16"><rect x="584.6" y="436" width="9.700000000000045" height="62.3"/></clipPath>
<rect x="584.6" y="436" width="9.700000000000045" height="62.3" fill="#fff"/>
<g clip-path="url(#hc16)" stroke="#555" stroke-width="0.8">
<line x1="584.6" y1="427.20" x2="594.3000000000001" y2="421.70"/>
<line x1="584.6" y1="429.10" x2="594.3000000000001" y2="423.60"/>
<line x1="584.6" y1="436.00" x2="594.3000000000001" y2="430.50"/>
<line x1="584.6" y1="437.90" x2="594.3000000000001" y2="432.40"/>
<line x1="584.6" y1="444.80" x2="594.3000000000001" y2="439.30"/>
<line x1="584.6" y1="446.70" x2="594.3000000000001" y2="441.20"/>
<line x1="584.6" y1="453.60" x2="594.3000000000001" y2="448.10"/>
<line x1="584.6" y1="455.50" x2="594.3000000000001" y2="450.00"/>
<line x1="584.6" y1="462.40" x2="594.3000000000001" y2="456.90"/>
<line x1="584.6" y1="464.30" x2="594.3000000000001" y2="458.80"/>
<line x1="584.6" y1="471.20" x2="594.3000000000001" y2="465.70"/>
<line x1="584.6" y1="473.10" x2="594.3000000000001" y2="467.60"/>
<line x1="584.6" y1="480.00" x2="594.3000000000001" y2="474.50"/>
<line x1="584.6" y1="481.90" x2="594.3000000000001" y2="476.40"/>
<line x1="584.6" y1="488.80" x2="594.3000000000001" y2="483.30"/>
<line x1="584.6" y1="490.70" x2="594.3000000000001" y2="485.20"/>
<line x1="584.6" y1="497.60" x2="594.3000000000001" y2="492.10"/>
<line x1="584.6" y1="499.50" x2="594.3000000000001" y2="494.00"/>
<line x1="584.6" y1="506.40" x2="594.3000000000001" y2="500.90"/>
<line x1="584.6" y1="508.30" x2="594.3000000000001" y2="502.80"/>
<line x1="584.6" y1="515.20" x2="594.3000000000001" y2="509.70"/>
<line x1="584.6" y1="517.10" x2="594.3000000000001" y2="511.60"/>
</g>
<rect x="584.6" y="436" width="9.700000000000045" height="62.3" fill="none" stroke="#444" stroke-width="0.9"/>
<rect x="585.1" y="498.3" width="8.7" height="4.6" fill="#fff" stroke="#555" stroke-width="0.9"/>
<rect x="586.0" y="502.9" width="6.9" height="6.9" fill="#fff" stroke="#555" stroke-width="0.9"/>
<line x1="586.0" y1="506.1" x2="592.9" y2="506.1" stroke="#777" stroke-width="0.7"/>
<rect x="583.7" y="509.8" width="11.5" height="4.2" fill="#fff" stroke="#555" stroke-width="0.9"/>
<clipPath id="hc17"><rect x="597.3000000000001" y="436" width="9.399999999999977" height="62.3"/></clipPath>
<rect x="597.3000000000001" y="436" width="9.399999999999977" height="62.3" fill="#fff"/>
<g clip-path="url(#hc17)" stroke="#555" stroke-width="0.8">
<line x1="597.3000000000001" y1="427.20" x2="606.7" y2="421.70"/>
<line x1="597.3000000000001" y1="429.10" x2="606.7" y2="423.60"/>
<line x1="597.3000000000001" y1="436.00" x2="606.7" y2="430.50"/>
<line x1="597.3000000000001" y1="437.90" x2="606.7" y2="432.40"/>
<line x1="597.3000000000001" y1="444.80" x2="606.7" y2="439.30"/>
<line x1="597.3000000000001" y1="446.70" x2="606.7" y2="441.20"/>
<line x1="597.3000000000001" y1="453.60" x2="606.7" y2="448.10"/>
<line x1="597.3000000000001" y1="455.50" x2="606.7" y2="450.00"/>
<line x1="597.3000000000001" y1="462.40" x2="606.7" y2="456.90"/>
<line x1="597.3000000000001" y1="464.30" x2="606.7" y2="458.80"/>
<line x1="597.3000000000001" y1="471.20" x2="606.7" y2="465.70"/>
<line x1="597.3000000000001" y1="473.10" x2="606.7" y2="467.60"/>
<line x1="597.3000000000001" y1="480.00" x2="606.7" y2="474.50"/>
<line x1="597.3000000000001" y1="481.90" x2="606.7" y2="476.40"/>
<line x1="597.3000000000001" y1="488.80" x2="606.7" y2="483.30"/>
<line x1="597.3000000000001" y1="490.70" x2="606.7" y2="485.20"/>
<line x1="597.3000000000001" y1="497.60" x2="606.7" y2="492.10"/>
<line x1="597.3000000000001" y1="499.50" x2="606.7" y2="494.00"/>
<line x1="597.3000000000001" y1="506.40" x2="606.7" y2="500.90"/>
<line x1="597.3000000000001" y1="508.30" x2="606.7" y2="502.80"/>
<line x1="597.3000000000001" y1="515.20" x2="606.7" y2="509.70"/>
<line x1="597.3000000000001" y1="517.10" x2="606.7" y2="511.60"/>
</g>
<rect x="597.3000000000001" y="436" width="9.399999999999977" height="62.3" fill="none" stroke="#444" stroke-width="0.9"/>
<rect x="597.8" y="498.3" width="8.4" height="4.6" fill="#fff" stroke="#555" stroke-width="0.9"/>
<rect x="598.7" y="502.9" width="6.6" height="6.9" fill="#fff" stroke="#555" stroke-width="0.9"/>
<line x1="598.7" y1="506.1" x2="605.3" y2="506.1" stroke="#777" stroke-width="0.7"/>
<rect x="596.4" y="509.8" width="11.2" height="4.2" fill="#fff" stroke="#555" stroke-width="0.9"/>
<rect x="579.1" y="514" width="30.9" height="11.5" fill="#fff" stroke="#555" stroke-width="0.9"/>
<path d="M579.9,519.7 L581.3,515.3 L583.5,514.6 L585.6,515.3 L587.0,519.7 L585.6,524.3 L583.5,525 L581.3,524.3 Z" fill="none" stroke="#666" stroke-width="0.8" stroke-linejoin="round"/>
<path d="M588.6,519.7 L590.0,515.3 L593.8,514.6 L597.6,515.3 L599.0,519.7 L597.6,524.3 L593.8,525 L590.0,524.3 Z" fill="none" stroke="#666" stroke-width="0.8" stroke-linejoin="round"/>
<path d="M600.6,519.7 L602.0,515.3 L604.9,514.6 L607.8,515.3 L609.2,519.7 L607.8,524.3 L604.9,525 L602.0,524.3 Z" fill="none" stroke="#666" stroke-width="0.8" stroke-linejoin="round"/>
<rect x="585.4" y="525.5" width="18" height="12.9" fill="#fff" stroke="#555" stroke-width="0.9"/>
<line x1="585.4" y1="527.9" x2="603.4" y2="527.9" stroke="#777" stroke-width="0.8"/>
<rect x="584.3" y="538.4" width="20.3" height="6" fill="#fff" stroke="#555" stroke-width="0.9"/>
<line x1="594.4" y1="538.4" x2="594.4" y2="544.4" stroke="#666" stroke-width="0.8"/>
<path d="M586.3,544.4 L586.3,548.5 L590.0,551.3 L600.4,551.3 L603.6,548.5 L603.6,544.4" fill="#fff" stroke="#555" stroke-width="0.9"/>
<rect x="592.0" y="551.3" width="5.6" height="3.6" rx="1" fill="#fff" stroke="#555" stroke-width="0.8"/>
<g fill="none" stroke="#222" stroke-width="2.4" stroke-linejoin="round">
<path d="M57.57,158.8 L61.06,118.89 A95.3,95.3 0 0 1 251.30,127.2 L251.30,276"/>
<path d="M76.93,160.1 L80.39,120.58 A75.9,75.9 0 0 1 231.90,127.2 L231.90,276"/>
<path d="M57.64,158.8 L77.0,160.1"/>
</g>
<line x1="59.5" y1="144.2" x2="76.3" y2="145.5" stroke="#222" stroke-width="1.2"/>
<rect x="63.9" y="160" width="6.1" height="1.6" fill="#444"/>
<line x1="231.9" y1="249.3" x2="237" y2="249.3" stroke="#222" stroke-width="2"/>
<line x1="246" y1="249.3" x2="251.3" y2="249.3" stroke="#222" stroke-width="2"/>
<g fill="#fff" stroke="#222" stroke-width="2.4">
<rect x="-3.4" y="-66" width="6.8" height="56" transform="translate(241.2 292.6) rotate(-45)"/>
<rect x="-3.4" y="-66" width="6.8" height="56" transform="translate(241.2 292.6) rotate(45)"/>
<rect x="237" y="226.5" width="9.2" height="50"/>
<path d="M223.9,296 L223.9,337.7 L258.4,337.7 L258.4,296"/>
<circle cx="241.2" cy="292.6" r="17.9"/>
</g>
<text font-size="200" fill="#3a3a3a" transform="matrix(0.03457 0 0 0.02941 227.05 294.56)">paulmark</text>
<path d="M200.4,244 A63.5,63.5 0 0 1 236,229.2" fill="none" stroke="#3a3a3a" stroke-width="0.9"/>
<path d="M246.4,229.2 A63.5,63.5 0 0 1 282,244" fill="none" stroke="#3a3a3a" stroke-width="0.9"/>
<path d="M200.40,244.00 L202.79,238.82 L205.08,240.75 Z" fill="#3a3a3a"/>
<path d="M282.00,244.00 L277.32,240.75 L279.61,238.82 Z" fill="#3a3a3a"/>
<text font-size="200" fill="#2b2b2b" stroke="#fff" stroke-width="1.37" transform="matrix(0.13112 0 0 0.12465 186.44 230.35)">45°</text>
<text font-size="200" fill="#2b2b2b" stroke="#fff" stroke-width="1.41" transform="matrix(0.12727 0 0 0.12465 261.56 230.35)">45°</text>
<line x1="241.2" y1="154.4" x2="241.2" y2="225.5" stroke="#777" stroke-width="0.8" stroke-dasharray="6.2,6.2"/>
<path d="M69.2,149.3 Q150,158.8 240.3,158.8" fill="none" stroke="#3a3a3a" stroke-width="0.9"/>
<path d="M69.20,149.30 L74.83,148.38 L74.51,151.37 Z" fill="#3a3a3a"/>
<path d="M240.50,158.80 L235.00,160.30 L235.00,157.30 Z" fill="#3a3a3a"/>
<text font-size="200" fill="#2b2b2b" stroke="#fff" stroke-width="1.21" transform="matrix(0.14854 0 0 0.14366 142.01 153.41)">5°</text>
<line x1="69" y1="206.3" x2="238" y2="206.3" stroke="#3a3a3a" stroke-width="0.9"/>
<path d="M68.50,206.30 L74.00,204.80 L74.00,207.80 Z" fill="#3a3a3a"/>
<path d="M238.50,206.30 L233.00,207.80 L233.00,204.80 Z" fill="#3a3a3a"/>
<line x1="66.8" y1="161" x2="66.8" y2="208" stroke="#8a8a8a" stroke-width="1"/>
<text font-size="200" fill="#2b2b2b" stroke="#fff" stroke-width="1.37" transform="matrix(0.11274 0 0 0.13169 139.67 200.84)">219</text>
<line x1="47" y1="161.5" x2="69" y2="161.5" stroke="#8a8a8a" stroke-width="1"/>
<line x1="48.6" y1="163" x2="48.6" y2="340" stroke="#3a3a3a" stroke-width="0.9"/>
<path d="M48.60,162.50 L50.10,168.00 L47.10,168.00 Z" fill="#3a3a3a"/>
<path d="M48.60,340.50 L47.10,335.00 L50.10,335.00 Z" fill="#3a3a3a"/>
<text font-size="200" fill="#2b2b2b" stroke="#fff" stroke-width="1.33" transform="matrix(0 -0.12229 0.13571 0 44.70 266.12)">227</text>
<g fill="#fff" stroke="#222" stroke-width="2.4" stroke-linejoin="round">
<path d="M391.6,274 L391.6,41 A9.95,9.95 0 0 1 411.5,41 L411.5,274"/>
<path d="M353.5,274 L391.6,274 Q401.5,280 411.5,274 L469.4,274 L469.4,309.8 L418.9,309.8 L406.3,297.7 L396.5,297.7 L383.8,309.8 L353.5,309.8 Z"/>
<path d="M383.8,309.8 L383.8,337.5 M418.9,309.8 L418.9,337.5" fill="none"/>
<path d="M381,274 L381,309.8 M447.7,274 L447.7,309.8" fill="none"/>
<rect x="358.5" y="257.9" width="6.7" height="16.1"/>
<rect x="457.8" y="224.7" width="7.4" height="49.3"/>
<rect x="-3.6" y="-49" width="7.2" height="46" transform="translate(469.8 281) rotate(24)"/>
<path d="M448,291 L455.4,309.8 L469.2,309.8 L469.2,280.8 L464,274.2 L456.6,275.4" fill="none"/>
</g>
<rect x="380.7" y="337.3" width="41.9" height="4.4" fill="#fff" stroke="#222" stroke-width="1.5"/>
<path d="M457.2,275.4 L476.2,282 L461.4,315.2 L448.3,308.7 Z" fill="none" stroke="#444" stroke-width="0.8"/>
<path d="M392.5,145 Q401.5,143.3 410.5,145" fill="none" stroke="#555" stroke-width="1.1"/>
<path d="M392.5,159.2 Q401.5,157.6 410.5,159.2 Q401.5,160.8 392.5,159.2" fill="none" stroke="#666" stroke-width="0.9"/>
<rect x="398.7" y="159.5" width="5.6" height="3.2" fill="#fff" stroke="#222" stroke-width="1.5"/>
<line x1="391.6" y1="249.5" x2="411.5" y2="249.5" stroke="#999" stroke-width="0.8"/>
<line x1="344.9" y1="194.5" x2="387" y2="194.5" stroke="#8a8a8a" stroke-width="1"/>
<line x1="393" y1="194.5" x2="410" y2="194.5" stroke="#3a3a3a" stroke-width="0.8"/>
<path d="M393.00,194.50 L397.00,193.00 L397.00,196.00 Z" fill="#3a3a3a"/>
<path d="M410.00,194.50 L406.00,196.00 L406.00,193.00 Z" fill="#3a3a3a"/>
<text font-size="200" fill="#2b2b2b" stroke="#fff" stroke-width="1.52" transform="matrix(0.11753 0 0 0.11812 338.38 189.61)">Ø24</text>
<line x1="319.8" y1="249.5" x2="391.6" y2="249.5" stroke="#8a8a8a" stroke-width="1"/>
<line x1="322.6" y1="251" x2="322.6" y2="340" stroke="#3a3a3a" stroke-width="0.9"/>
<path d="M322.60,250.00 L324.10,255.50 L321.10,255.50 Z" fill="#3a3a3a"/>
<path d="M322.60,341.00 L321.10,335.50 L324.10,335.50 Z" fill="#3a3a3a"/>
<text font-size="200" fill="#2b2b2b" stroke="#fff" stroke-width="1.53" transform="matrix(0 -0.10325 0.11768 0 318.24 322.15)">115,5</text>
<line x1="339.5" y1="274.4" x2="353.5" y2="274.4" stroke="#8a8a8a" stroke-width="1"/>
<line x1="341" y1="310.3" x2="353.5" y2="310.3" stroke="#8a8a8a" stroke-width="1"/>
<line x1="346.3" y1="276" x2="346.3" y2="309" stroke="#3a3a3a" stroke-width="0.9"/>
<path d="M346.30,275.20 L347.80,280.70 L344.80,280.70 Z" fill="#3a3a3a"/>
<path d="M346.30,309.60 L344.80,304.10 L347.80,304.10 Z" fill="#3a3a3a"/>
<text font-size="200" fill="#2b2b2b" stroke="#fff" stroke-width="1.52" transform="matrix(0 -0.11818 0.11611 0 342.42 312.13)">Ø45</text>
<line x1="365.4" y1="318.4" x2="365.4" y2="336" stroke="#3a3a3a" stroke-width="0.9"/>
<path d="M365.40,337.20 L363.90,331.70 L366.90,331.70 Z" fill="#3a3a3a"/>
<line x1="358.5" y1="337.7" x2="380.7" y2="337.7" stroke="#8a8a8a" stroke-width="1"/>
<text font-size="200" fill="#2b2b2b" stroke="#fff" stroke-width="1.69" transform="matrix(0 -0.10632 0.10643 0 360.69 330.15)">5</text>
<line x1="381.8" y1="324.5" x2="381.8" y2="337" stroke="#8a8a8a" stroke-width="1"/>
<line x1="421.3" y1="324.5" x2="421.3" y2="337" stroke="#8a8a8a" stroke-width="1"/>
<line x1="385" y1="331.5" x2="418" y2="331.5" stroke="#3a3a3a" stroke-width="0.9"/>
<path d="M384.20,331.50 L388.20,330.00 L388.20,333.00 Z" fill="#3a3a3a"/>
<path d="M418.30,331.50 L414.30,333.00 L414.30,330.00 Z" fill="#3a3a3a"/>
<text font-size="200" fill="#2b2b2b" stroke="#fff" stroke-width="1.92" transform="matrix(0.08843 0 0 0.09396 384.18 327.63)">Ø50</text>
<line x1="461.1" y1="209.4" x2="461.1" y2="221.7" stroke="#8a8a8a" stroke-width="1"/>
<path d="M463.5,210 Q485,208 492.5,223" fill="none" stroke="#3a3a3a" stroke-width="0.9"/>
<path d="M463.50,210.00 L468.11,208.90 L467.85,211.89 Z" fill="#3a3a3a"/>
<path d="M492.80,223.50 L489.54,220.06 L492.26,218.79 Z" fill="#3a3a3a"/>
<line x1="494.6" y1="221.7" x2="490.8" y2="230" stroke="#8a8a8a" stroke-width="0.8"/>
<text font-size="200" fill="#2b2b2b" stroke="#fff" stroke-width="1.37" transform="matrix(0.12918 0 0 0.13169 478.01 207.84)">25°</text>
<line x1="468.2" y1="225.6" x2="540" y2="225.6" stroke="#8a8a8a" stroke-width="1"/>
<line x1="537.9" y1="227" x2="537.9" y2="340" stroke="#3a3a3a" stroke-width="0.9"/>
<path d="M537.90,226.30 L539.40,231.80 L536.40,231.80 Z" fill="#3a3a3a"/>
<path d="M537.90,341.00 L536.40,335.50 L539.40,335.50 Z" fill="#3a3a3a"/>
<text font-size="200" fill="#2b2b2b" stroke="#fff" stroke-width="1.33" transform="matrix(0 -0.11230 0.13525 0 535.06 276.78)">147</text>
<line x1="502.6" y1="227" x2="502.6" y2="300.7" stroke="#8a8a8a" stroke-width="1"/>
<path d="M502.60,226.30 L504.10,231.80 L501.10,231.80 Z" fill="#3a3a3a"/>
<line x1="469.4" y1="309.7" x2="498.4" y2="309.7" stroke="#8a8a8a" stroke-width="1"/>
<text font-size="200" fill="#2b2b2b" stroke="#fff" stroke-width="1.40" transform="matrix(0 -0.11683 0.12887 0 497.44 293.45)">107</text>
<line x1="506.7" y1="290.6" x2="523.4" y2="290.6" stroke="#8a8a8a" stroke-width="1"/>
<line x1="522" y1="294" x2="522" y2="337" stroke="#3a3a3a" stroke-width="0.9"/>
<path d="M522.00,293.80 L523.50,299.30 L520.50,299.30 Z" fill="#3a3a3a"/>
<path d="M522.00,338.00 L520.50,332.50 L523.50,332.50 Z" fill="#3a3a3a"/>
<text font-size="200" fill="#2b2b2b" stroke="#fff" stroke-width="1.32" transform="matrix(0 -0.12892 0.13662 0 518.23 328.29)">63</text>
<g fill="none" stroke="#222" stroke-width="2.4" stroke-linejoin="round">
<path d="M585.4,276 L585.4,128 A95.1,93 0 0 1 775.25,120.07 L778.96,162.4"/>
<path d="M604.7,276 L604.7,128 A75.8,73.5 0 0 1 756.03,121.79 L759.69,163.6"/>
<path d="M778.96,162.4 L759.7,163.6"/>
</g>
<line x1="759" y1="148.7" x2="777.9" y2="147" stroke="#222" stroke-width="1.8"/>
<rect x="765.8" y="163.3" width="6.9" height="2.5" fill="#222"/>
<line x1="585.3" y1="253.2" x2="604.6" y2="253.2" stroke="#222" stroke-width="2"/>
<g fill="#fff" stroke="#222" stroke-width="2.4">
<rect x="591.7" y="257.9" width="6.9" height="20"/>
<rect x="608" y="288.8" width="21.3" height="6.7"/>
<path d="M574.1,342 L574.1,300 Q574.1,298 576.5,298 M613.8,298 Q615.3,298 615.3,300 L615.3,342"/>
<circle cx="595.2" cy="292.5" r="17.9"/>
</g>
<rect x="573" y="338" width="43.5" height="4" fill="#fff" stroke="#222" stroke-width="1.2"/>
<text font-size="200" fill="#3a3a3a" transform="matrix(0.03642 0 0 0.02941 580.03 293.56)">paulmark</text>
<path d="M602,259.5 Q620,262 625.6,283" fill="none" stroke="#3a3a3a" stroke-width="0.9"/>
<path d="M601.80,259.50 L607.03,258.22 L606.47,262.18 Z" fill="#3a3a3a"/>
<path d="M625.60,284.00 L622.81,279.31 L627.17,278.77 Z" fill="#3a3a3a"/>
<text font-size="200" fill="#2b2b2b" stroke="#fff" stroke-width="1.23" transform="matrix(0.14645 0 0 0.13803 617.58 263.02)">90°</text>
<path d="M585.3,157.2 A26.5,3.2 0 1 0 604.5,157.2" fill="none" stroke="#3a3a3a" stroke-width="0.9"/>
<path d="M582.00,157.30 L577.50,158.80 L577.50,155.80 Z" fill="#3a3a3a"/>
<path d="M607.50,157.30 L612.00,155.80 L612.00,158.80 Z" fill="#3a3a3a"/>
<text font-size="200" fill="#2b2b2b" stroke="#fff" stroke-width="1.26" transform="matrix(0.14340 0 0 0.13662 610.65 154.13)">360°</text>
<line x1="672.7" y1="31.4" x2="797" y2="31.4" stroke="#8a8a8a" stroke-width="1"/>
<line x1="792.5" y1="33" x2="792.5" y2="336" stroke="#3a3a3a" stroke-width="0.9"/>
<path d="M792.50,32.50 L794.00,38.00 L791.00,38.00 Z" fill="#3a3a3a"/>
<path d="M792.50,337.00 L791.00,331.50 L794.00,331.50 Z" fill="#3a3a3a"/>
<text font-size="200" fill="#2b2b2b" stroke="#fff" stroke-width="1.30" transform="matrix(0 -0.13899 0.13380 0 787.43 236.01)">390</text>
<text font-size="200" fill="#2a2a2a" stroke="#fff" stroke-width="1.49" transform="matrix(0.11962 0 0 0.12081 100.16 583.20)">Ø 35</text>
<path d="M104.2,591.9 L152.4,591.9 L165.5,611" fill="none" stroke="#2a2a2a" stroke-width="1.4"/>
<path d="M166.60,612.80 L160.49,608.50 L164.78,605.56 Z" fill="#2a2a2a"/>
<line x1="104" y1="608.9" x2="278" y2="608.9" stroke="#333" stroke-width="1.7" stroke-dasharray="2.8,1.8"/>
<clipPath id="fh"><rect x="81" y="639.6" width="182" height="13.8"/></clipPath>
<g clip-path="url(#fh)" stroke="#666" stroke-width="0.75">
<line x1="60.0" y1="654" x2="74.4" y2="639.6"/>
<line x1="62.5" y1="654" x2="76.9" y2="639.6"/>
<line x1="64.9" y1="654" x2="79.3" y2="639.6"/>
<line x1="67.4" y1="654" x2="81.8" y2="639.6"/>
<line x1="69.8" y1="654" x2="84.2" y2="639.6"/>
<line x1="72.3" y1="654" x2="86.7" y2="639.6"/>
<line x1="74.7" y1="654" x2="89.1" y2="639.6"/>
<line x1="77.2" y1="654" x2="91.6" y2="639.6"/>
<line x1="79.6" y1="654" x2="94.0" y2="639.6"/>
<line x1="82.1" y1="654" x2="96.5" y2="639.6"/>
<line x1="84.5" y1="654" x2="98.9" y2="639.6"/>
<line x1="87.0" y1="654" x2="101.4" y2="639.6"/>
<line x1="89.4" y1="654" x2="103.8" y2="639.6"/>
<line x1="91.9" y1="654" x2="106.3" y2="639.6"/>
<line x1="94.3" y1="654" x2="108.7" y2="639.6"/>
<line x1="96.8" y1="654" x2="111.2" y2="639.6"/>
<line x1="99.2" y1="654" x2="113.6" y2="639.6"/>
<line x1="101.7" y1="654" x2="116.1" y2="639.6"/>
<line x1="104.1" y1="654" x2="118.5" y2="639.6"/>
<line x1="106.6" y1="654" x2="121.0" y2="639.6"/>
<line x1="109.0" y1="654" x2="123.4" y2="639.6"/>
<line x1="111.5" y1="654" x2="125.9" y2="639.6"/>
<line x1="113.9" y1="654" x2="128.3" y2="639.6"/>
<line x1="116.4" y1="654" x2="130.8" y2="639.6"/>
<line x1="118.8" y1="654" x2="133.2" y2="639.6"/>
<line x1="121.3" y1="654" x2="135.7" y2="639.6"/>
<line x1="123.7" y1="654" x2="138.1" y2="639.6"/>
<line x1="126.2" y1="654" x2="140.6" y2="639.6"/>
<line x1="128.6" y1="654" x2="143.0" y2="639.6"/>
<line x1="131.1" y1="654" x2="145.5" y2="639.6"/>
<line x1="133.5" y1="654" x2="147.9" y2="639.6"/>
<line x1="136.0" y1="654" x2="150.4" y2="639.6"/>
<line x1="138.4" y1="654" x2="152.8" y2="639.6"/>
<line x1="140.9" y1="654" x2="155.3" y2="639.6"/>
<line x1="143.3" y1="654" x2="157.7" y2="639.6"/>
<line x1="145.8" y1="654" x2="160.2" y2="639.6"/>
<line x1="148.2" y1="654" x2="162.6" y2="639.6"/>
<line x1="150.6" y1="654" x2="165.0" y2="639.6"/>
<line x1="153.1" y1="654" x2="167.5" y2="639.6"/>
<line x1="155.5" y1="654" x2="169.9" y2="639.6"/>
<line x1="158.0" y1="654" x2="172.4" y2="639.6"/>
<line x1="160.4" y1="654" x2="174.8" y2="639.6"/>
<line x1="162.9" y1="654" x2="177.3" y2="639.6"/>
<line x1="165.3" y1="654" x2="179.7" y2="639.6"/>
<line x1="167.8" y1="654" x2="182.2" y2="639.6"/>
<line x1="170.2" y1="654" x2="184.6" y2="639.6"/>
<line x1="172.7" y1="654" x2="187.1" y2="639.6"/>
<line x1="175.1" y1="654" x2="189.5" y2="639.6"/>
<line x1="177.6" y1="654" x2="192.0" y2="639.6"/>
<line x1="180.0" y1="654" x2="194.4" y2="639.6"/>
<line x1="182.5" y1="654" x2="196.9" y2="639.6"/>
<line x1="184.9" y1="654" x2="199.3" y2="639.6"/>
<line x1="187.4" y1="654" x2="201.8" y2="639.6"/>
<line x1="189.8" y1="654" x2="204.2" y2="639.6"/>
<line x1="192.3" y1="654" x2="206.7" y2="639.6"/>
<line x1="194.7" y1="654" x2="209.1" y2="639.6"/>
<line x1="197.2" y1="654" x2="211.6" y2="639.6"/>
<line x1="199.6" y1="654" x2="214.0" y2="639.6"/>
<line x1="202.1" y1="654" x2="216.5" y2="639.6"/>
<line x1="204.5" y1="654" x2="218.9" y2="639.6"/>
<line x1="207.0" y1="654" x2="221.4" y2="639.6"/>
<line x1="209.4" y1="654" x2="223.8" y2="639.6"/>
<line x1="211.9" y1="654" x2="226.3" y2="639.6"/>
<line x1="214.3" y1="654" x2="228.7" y2="639.6"/>
<line x1="216.8" y1="654" x2="231.2" y2="639.6"/>
<line x1="219.2" y1="654" x2="233.6" y2="639.6"/>
<line x1="221.7" y1="654" x2="236.1" y2="639.6"/>
<line x1="224.1" y1="654" x2="238.5" y2="639.6"/>
<line x1="226.6" y1="654" x2="241.0" y2="639.6"/>
<line x1="229.0" y1="654" x2="243.4" y2="639.6"/>
<line x1="231.5" y1="654" x2="245.9" y2="639.6"/>
<line x1="233.9" y1="654" x2="248.3" y2="639.6"/>
<line x1="236.4" y1="654" x2="250.8" y2="639.6"/>
<line x1="238.8" y1="654" x2="253.2" y2="639.6"/>
<line x1="241.3" y1="654" x2="255.7" y2="639.6"/>
<line x1="243.7" y1="654" x2="258.1" y2="639.6"/>
<line x1="246.2" y1="654" x2="260.6" y2="639.6"/>
<line x1="248.6" y1="654" x2="263.0" y2="639.6"/>
<line x1="251.1" y1="654" x2="265.5" y2="639.6"/>
<line x1="253.5" y1="654" x2="267.9" y2="639.6"/>
<line x1="256.0" y1="654" x2="270.4" y2="639.6"/>
<line x1="258.4" y1="654" x2="272.8" y2="639.6"/>
<line x1="260.9" y1="654" x2="275.3" y2="639.6"/>
<line x1="263.3" y1="654" x2="277.7" y2="639.6"/>
<line x1="265.8" y1="654" x2="280.2" y2="639.6"/>
<line x1="268.2" y1="654" x2="282.6" y2="639.6"/>
<line x1="270.7" y1="654" x2="285.1" y2="639.6"/>
<line x1="273.1" y1="654" x2="287.5" y2="639.6"/>
<line x1="275.6" y1="654" x2="290.0" y2="639.6"/>
<line x1="278.0" y1="654" x2="292.4" y2="639.6"/>
</g>
<clipPath id="sh"><path d="M278,609 L262.8,639.6 L263.2,653.4 L279.5,621 Z"/></clipPath>
<g clip-path="url(#sh)" stroke="#777" stroke-width="0.8">
<line x1="258" y1="600.0" x2="284" y2="596.0"/>
<line x1="258" y1="602.6" x2="284" y2="598.6"/>
<line x1="258" y1="605.2" x2="284" y2="601.2"/>
<line x1="258" y1="607.8" x2="284" y2="603.8"/>
<line x1="258" y1="610.4" x2="284" y2="606.4"/>
<line x1="258" y1="613.0" x2="284" y2="609.0"/>
<line x1="258" y1="615.6" x2="284" y2="611.6"/>
<line x1="258" y1="618.2" x2="284" y2="614.2"/>
<line x1="258" y1="620.8" x2="284" y2="616.8"/>
<line x1="258" y1="623.4" x2="284" y2="619.4"/>
<line x1="258" y1="626.0" x2="284" y2="622.0"/>
<line x1="258" y1="628.6" x2="284" y2="624.6"/>
<line x1="258" y1="631.2" x2="284" y2="627.2"/>
<line x1="258" y1="633.8" x2="284" y2="629.8"/>
<line x1="258" y1="636.4" x2="284" y2="632.4"/>
<line x1="258" y1="639.0" x2="284" y2="635.0"/>
<line x1="258" y1="641.6" x2="284" y2="637.6"/>
<line x1="258" y1="644.2" x2="284" y2="640.2"/>
<line x1="258" y1="646.8" x2="284" y2="642.8"/>
<line x1="258" y1="649.4" x2="284" y2="645.4"/>
<line x1="258" y1="652.0" x2="284" y2="648.0"/>
<line x1="258" y1="654.6" x2="284" y2="650.6"/>
<line x1="258" y1="657.2" x2="284" y2="653.2"/>
<line x1="258" y1="659.8" x2="284" y2="655.8"/>
</g>
<path d="M102.7,608.9 L81,639.6 L80.9,653.4 L263.2,653.4 L279.6,621 M81,639.6 L262.8,639.6 L278,608.9 M262.8,639.6 L263.2,653.4" fill="none" stroke="#2a2a2a" stroke-width="1.5" stroke-linejoin="round"/>
<ellipse cx="178" cy="625" rx="19.9" ry="10.5" fill="#b3b3b3"/>
<path d="M165,633.1 C170,628.5 176,625.3 183,625.1 L198,624.9 L198,640 L160,640 Z" fill="#fff" clip-path="url(#holeclip)"/>
<clipPath id="holeclip"><ellipse cx="178" cy="625" rx="19.9" ry="10.5"/></clipPath>
<path d="M165,633.1 C170,628.5 176,625.3 183,625.1 L197.5,624.9" fill="none" stroke="#2a2a2a" stroke-width="1.3"/>
<ellipse cx="178" cy="625" rx="19.9" ry="10.5" fill="none" stroke="#2a2a2a" stroke-width="1.4"/>
<text font-size="200" fill="#2e2e2e" stroke="#fff" stroke-width="1.14" transform="matrix(0.15773 0 0 0.14800 69.58 702.48)">диаметр монтажного отверстия</text>
<text font-size="200" fill="#2e2e2e" stroke="#fff" stroke-width="1.16" transform="matrix(0.15564 0 0 0.15385 69.59 738.54)">для установки смесителя 35 мм</text>
</svg>
</body></html>
